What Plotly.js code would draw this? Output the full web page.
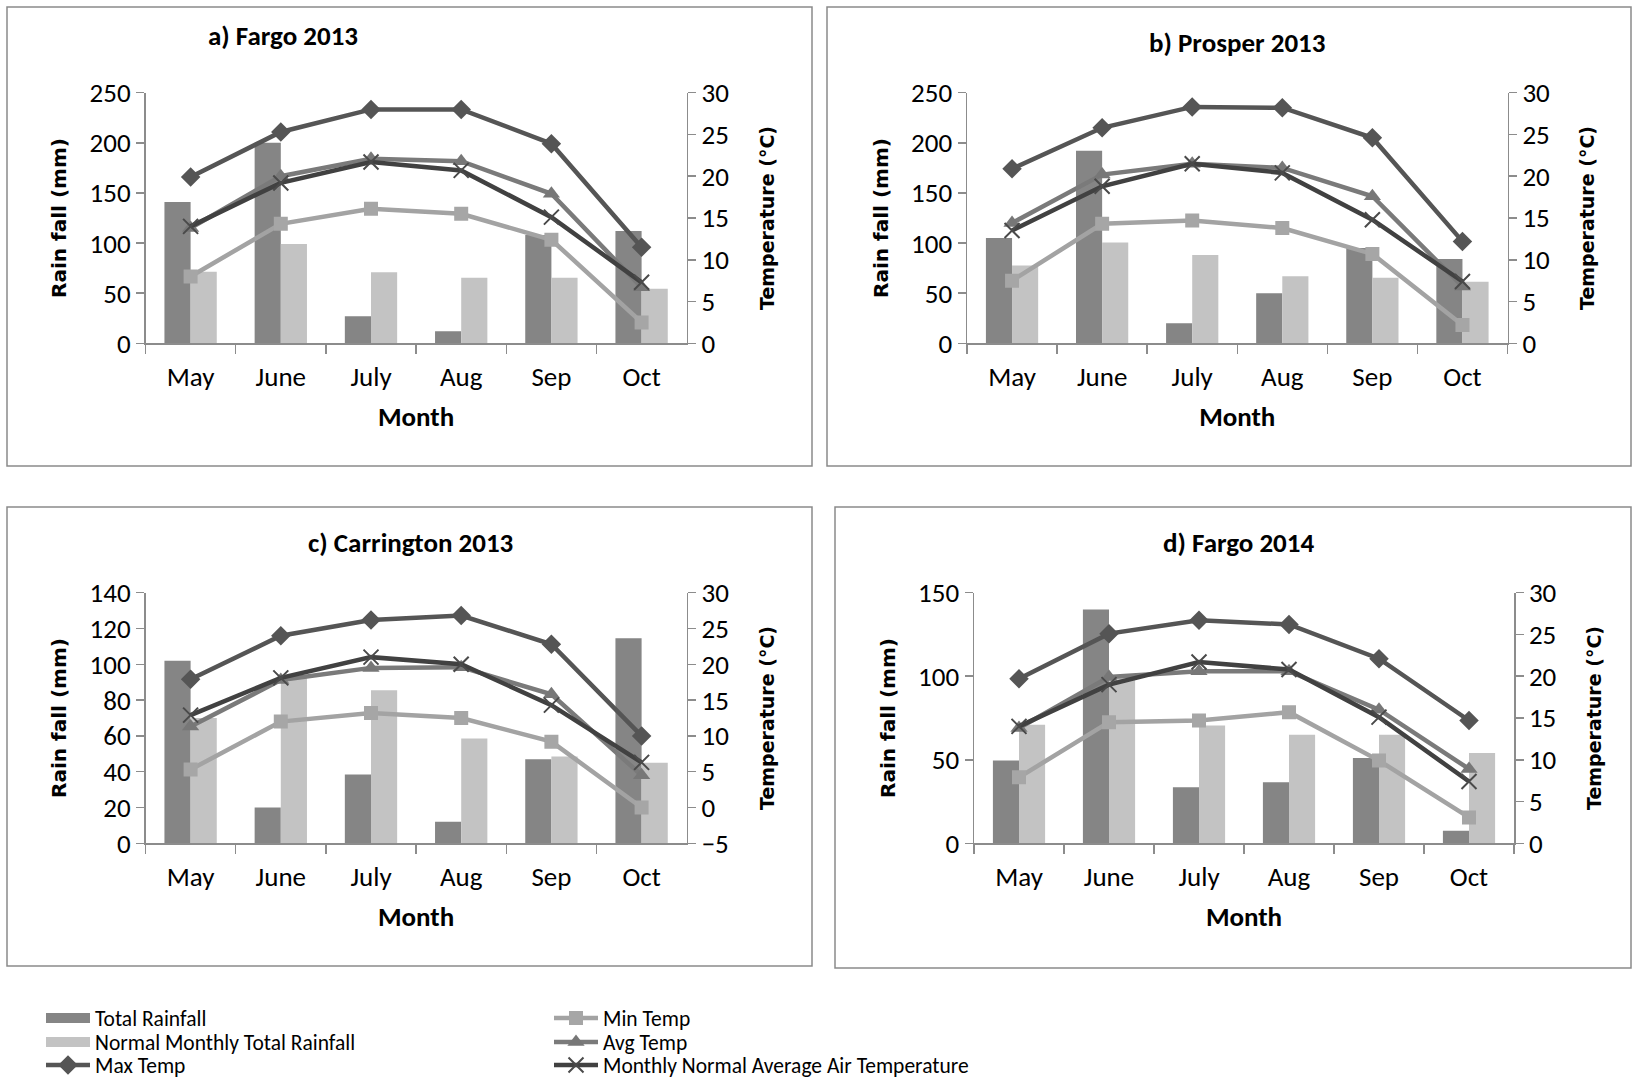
<!DOCTYPE html>
<html>
<head>
<meta charset="utf-8">
<script src="https://cdn.plot.ly/plotly-3.0.1.min.js"></script>
<style>html,body{margin:0;padding:0;background:#fff;}#chart{width:1632px;height:1079px;}</style>
</head>
<body>
<div id="chart"></div>
<script>
// ---------- data ----------
const months = ['May', 'June', 'July', 'Aug', 'Sep', 'Oct'];

const panelTitles = ['a) Fargo 2013', 'b) Prosper 2013', 'c) Carrington 2013', 'd) Fargo 2014'];

// Fargo 2013
const totalRain_a  = [141, 200, 27, 12, 108, 112];
const normalRain_a = [71.5, 99, 71, 65.5, 65.5, 54.5];
const maxTemp_a    = [19.9, 25.3, 28.0, 28.0, 23.9, 11.5];
const minTemp_a    = [8.0, 14.3, 16.1, 15.5, 12.4, 2.5];
const avgTemp_a    = [13.8, 20.0, 22.1, 21.8, 17.9, 6.7];
const normTemp_a   = [14.0, 19.2, 21.7, 20.7, 15.1, 7.3];

// Prosper 2013
const totalRain_b  = [105, 192, 20, 50, 95, 84];
const normalRain_b = [77.5, 100.5, 88, 67, 65.5, 61.5];
const maxTemp_b    = [20.9, 25.8, 28.3, 28.2, 24.6, 12.2];
const minTemp_b    = [7.5, 14.3, 14.7, 13.8, 10.7, 2.2];
const avgTemp_b    = [14.4, 20.2, 21.5, 21.0, 17.6, 6.8];
const normTemp_b   = [13.5, 18.8, 21.5, 20.4, 14.8, 7.4];

// Carrington 2013
const totalRain_c  = [102, 20, 38.5, 12, 47, 114.5];
const normalRain_c = [70, 93, 85.5, 58.5, 48.5, 45];
const maxTemp_c    = [17.9, 24.0, 26.2, 26.8, 22.8, 10.0];
const minTemp_c    = [5.3, 12.0, 13.2, 12.5, 9.2, 0.0];
const avgTemp_c    = [11.3, 17.8, 19.5, 19.6, 15.8, 4.5];
const normTemp_c   = [12.9, 18.1, 21.0, 20.0, 14.3, 6.3];

// Fargo 2014
const totalRain_d  = [49.5, 140, 33.5, 36.5, 51, 7.5];
const normalRain_d = [71, 99, 70.5, 65, 65, 54];
const maxTemp_d    = [19.7, 25.1, 26.7, 26.2, 22.1, 14.7];
const minTemp_d    = [7.9, 14.5, 14.7, 15.7, 9.9, 3.1];
const avgTemp_d    = [13.8, 19.9, 20.6, 20.6, 16.0, 8.9];
const normTemp_d   = [14.0, 19.0, 21.7, 20.8, 15.1, 7.4];

const rainRanges = [[0, 250], [0, 250], [0, 140], [0, 150]];
const rainDticks = [50, 50, 20, 50];
const tempRanges = [[0, 30], [0, 30], [-5, 30], [0, 30]];

const seriesNames = ['Total Rainfall', 'Normal Monthly Total Rainfall', 'Max Temp', 'Min Temp', 'Avg Temp', 'Monthly Normal Average Air Temperature'];

// ---------- layout helpers ----------
const W = 1632, H = 1079;
const px = x => x / W;
const py = y => 1 - y / H;

const FONT = "Carlito, 'Liberation Sans Narrow', 'DejaVu Sans Condensed', sans-serif";
const BOLDFONT = "'DejaVu Sans', Verdana, sans-serif";
const AXC = '#8c8c8c';
const TICKSIZE = 27;

const panels = [
  {rain: [totalRain_a, normalRain_a], temp: [maxTemp_a, minTemp_a, avgTemp_a, normTemp_a], x: [145.5, 686.7], y: [92.7, 343.3], title: [283, 36], box: [7, 7, 812, 466]},
  {rain: [totalRain_b, normalRain_b], temp: [maxTemp_b, minTemp_b, avgTemp_b, normTemp_b], x: [967, 1507.5], y: [92.7, 343.3], title: [1237, 42], box: [827, 7, 1631, 466]},
  {rain: [totalRain_c, normalRain_c], temp: [maxTemp_c, minTemp_c, avgTemp_c, normTemp_c], x: [145.5, 686.7], y: [592.7, 843.3], title: [410, 542], box: [7, 507, 812, 966]},
  {rain: [totalRain_d, normalRain_d], temp: [maxTemp_d, minTemp_d, avgTemp_d, normTemp_d], x: [974, 1514], y: [592.7, 843.3], title: [1238, 542], box: [835, 507, 1631, 968]}
];

const barColors = ['#858585', '#c3c3c3'];
const lineStyles = [
  {color: '#555555', marker: {symbol: 'diamond', size: 15, color: '#555555'}},
  {color: '#a3a3a3', marker: {symbol: 'square', size: 14, color: '#a6a6a6'}},
  {color: '#7a7a7a', marker: {symbol: 'triangle-up', size: 15, color: '#777777'}},
  {color: '#414141', marker: {symbol: 'x-thin-open', size: 15, color: '#4a4a4a', line: {width: 2, color: '#4a4a4a'}}}
];

// legend placement: one legend per entry (two columns of three rows)
const legendIds = ['legend', 'legend2', 'legend3', 'legend4', 'legend5', 'legend6'];
const legendPos = [[41, 1018], [41, 1042], [41, 1065], [549, 1018], [549, 1042], [549, 1065]];

const data = [];
const layout = {
  width: W, height: H,
  margin: {l: 0, r: 0, t: 0, b: 0, autoexpand: false},
  paper_bgcolor: '#ffffff', plot_bgcolor: 'rgba(0,0,0,0)',
  barmode: 'group', bargap: 0.42, bargroupgap: 0,
  font: {family: FONT, color: '#000000', size: TICKSIZE},
  showlegend: true,
  annotations: [], shapes: []
};
legendIds.forEach((id, k) => {
  layout[id] = {x: px(legendPos[k][0]), y: py(legendPos[k][1]), xanchor: 'left', yanchor: 'middle',
    orientation: 'v', font: {family: FONT, size: 21.5, color: '#000'}, itemwidth: 44,
    bgcolor: 'rgba(0,0,0,0)', borderwidth: 0};
});

// legend-only entries for the two rainfall series (wide rectangle symbol like the original)
[0, 1].forEach(k => {
  data.push({type: 'scatter', mode: 'lines', x: [null], y: [null], name: seriesNames[k],
    line: {color: barColors[k], width: 10}, legend: legendIds[k], hoverinfo: 'skip'});
});

panels.forEach((p, i) => {
  const xa = 'x' + (i === 0 ? '' : i + 1);
  const yaL = 'y' + (2 * i + 1 === 1 ? '' : 2 * i + 1);
  const yaR = 'y' + (2 * i + 2);
  const xKey = 'xaxis' + (i === 0 ? '' : i + 1);
  const yKeyL = 'yaxis' + (2 * i + 1 === 1 ? '' : 2 * i + 1);
  const yKeyR = 'yaxis' + (2 * i + 2);

  p.rain.forEach((vals, k) => {
    data.push({type: 'bar', x: months, y: vals, xaxis: xa, yaxis: yaL, name: seriesNames[k],
      marker: {color: barColors[k], line: {width: 0}}, showlegend: false, offsetgroup: 'g' + k});
  });
  p.temp.forEach((vals, k) => {
    const s = lineStyles[k];
    data.push({type: 'scatter', mode: 'lines+markers', x: months, y: vals, xaxis: xa, yaxis: yaR,
      name: seriesNames[k + 2], line: {color: s.color, width: 4.5}, marker: s.marker,
      showlegend: i === 0, legend: legendIds[k + 2]});
  });

  layout[xKey] = {
    domain: [px(p.x[0]), px(p.x[1])], anchor: yaL, type: 'category', range: [-0.5, 5.5],
    showline: true, linecolor: AXC, linewidth: 1.5, ticks: 'outside', tickson: 'boundaries',
    ticklen: 9, tickcolor: AXC, tickwidth: 1.5, showgrid: false, zeroline: false,
    tickfont: {family: FONT, size: TICKSIZE, color: '#000'}, ticklabelstandoff: 9,
    title: {text: '<b>Month</b>', font: {family: FONT, size: 27, color: '#000'}, standoff: 15}
  };
  layout[yKeyL] = {
    domain: [py(p.y[1]), py(p.y[0])], anchor: xa, range: rainRanges[i], dtick: rainDticks[i],
    showline: true, linecolor: AXC, linewidth: 1.5, ticks: 'outside', ticklen: 8, tickcolor: AXC, tickwidth: 1.5,
    showgrid: false, zeroline: false, tickfont: {family: FONT, size: TICKSIZE, color: '#000'},
    title: {text: '<b>Rain fall (mm)</b>', font: {family: BOLDFONT, size: 20, color: '#000'}, standoff: 17}
  };
  layout[yKeyR] = {
    domain: [py(p.y[1]), py(p.y[0])], anchor: xa, overlaying: yaL, side: 'right', range: tempRanges[i], dtick: 5,
    showline: true, linecolor: AXC, linewidth: 1.5, ticks: 'outside', ticklen: 8, tickcolor: AXC, tickwidth: 1.5,
    showgrid: false, zeroline: false, tickfont: {family: FONT, size: TICKSIZE, color: '#000'},
    title: {text: '<b>Temperature (°C)</b>', font: {family: BOLDFONT, size: 19, color: '#000'}, standoff: 32}
  };

  layout.annotations.push({text: '<b>' + panelTitles[i] + '</b>', xref: 'paper', yref: 'paper',
    x: px(p.title[0]), y: py(p.title[1]), xanchor: 'center', yanchor: 'middle', showarrow: false,
    font: {family: FONT, size: 27, color: '#000'}});
  layout.shapes.push({type: 'rect', xref: 'paper', yref: 'paper',
    x0: px(p.box[0]), y0: py(p.box[1]), x1: px(p.box[2]), y1: py(p.box[3]),
    line: {color: '#8a8a8a', width: 1.5}, fillcolor: 'rgba(0,0,0,0)', layer: 'below'});
});

Plotly.newPlot('chart', data, layout, {displayModeBar: false, staticPlot: true});
</script>
</body>
</html>
